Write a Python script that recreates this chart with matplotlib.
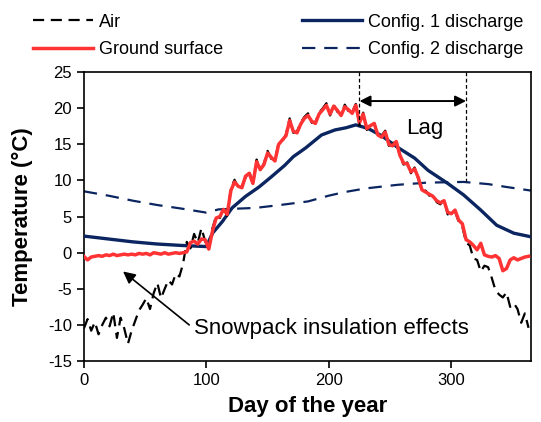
import matplotlib
matplotlib.use("Agg")
import matplotlib.pyplot as plt
import numpy as np

plt.rcParams['font.family'] = ['Liberation Sans', 'DejaVu Sans']
plt.rcParams['axes.unicode_minus'] = False

# daily series sampled every 3 days
days = np.arange(0, 366, 3)

air = [-10.5, -9.2, -10.8, -9.6, -11.3, -10.0, -9.0, -10.2, -8.3, -11.8,
       -9.0, -10.5, -12.6, -10.8, -9.4, -8.0, -7.2, -6.3, -7.8, -5.6,
       -4.2, -6.3, -5.0, -3.8, -4.4, -2.9, -3.3, -1.5, 1.5,
       0.6, 2.6, 1.4, 3.4, 1.6, 0.6, 3.4, 5.1, 4.8, 6.2,
       5.1, 8.9, 10.1, 9.0, 9.2, 10.4, 11.3, 9.4, 12.9, 11.3,
       12.4, 14.1, 13.0, 12.9, 15.2, 15.4, 16.4, 18.6, 16.6, 16.8,
       18.0, 18.8, 19.3, 18.0, 18.1, 19.4, 20.0, 20.7, 19.0, 20.5,
       19.5, 19.2, 20.5, 19.6, 19.5, 20.6, 17.6, 19.4, 17.0, 17.8,
       18.1, 16.1, 16.2, 16.9, 14.8, 15.0, 15.6, 13.3, 12.2, 12.5,
       11.0, 11.8, 10.2, 8.5, 8.6, 7.9, 8.0, 7.0, 6.7, 7.4,
       5.3, 5.6, 5.7,
       4.3, 3.6, 1.4, 1.0, -0.8, -1.0, -2.6, -1.8, -2.0, -3.5,
       -5.2, -5.8, -6.2, -5.5, -7.5, -7.0, -7.8, -9.7, -8.4, -10.4]

ground = [-0.5, -1.0, -0.6, -0.5, -0.4, -0.5, -0.3, -0.4, -0.2, -0.4,
          -0.3, -0.2, -0.3, -0.2, -0.3, -0.1, -0.2, -0.1, -0.3, 0.0,
          -0.1, -0.2, 0.0, -0.2, -0.1, 0.0, -0.1, 0.0, 0.1,
          1.4, 1.6, 1.2, 1.9, 1.8, 0.5, 3.0, 4.8, 5.0, 6.0,
          5.3, 8.6, 9.8, 9.2, 9.0, 10.6, 11.0, 9.6, 12.6, 11.5,
          12.2, 13.8, 13.2, 12.7, 15.0, 15.6, 16.2, 18.3, 16.8, 16.6,
          17.8, 18.6, 19.0, 18.2, 17.9, 19.2, 19.8, 20.4, 19.2, 20.3,
          19.7, 19.0, 20.2, 19.8, 19.3, 20.4, 18.0, 19.2, 17.2, 17.6,
          17.9, 16.3, 16.0, 16.7, 15.0, 14.8, 15.4, 13.5, 12.4, 12.3,
          11.2, 11.6, 10.4, 8.7, 8.4, 8.1, 7.8, 7.2, 6.9, 7.2,
          5.6, 5.4, 5.9,
          4.5, 4.0, 1.8, 1.5, 1.0, 0.4, 1.3, -0.3, -0.5, -0.6,
          -0.4, -0.8, -2.5, -2.2, -1.0, -0.7, -1.0, -0.8, -0.6, -0.5]

cfg1_days = [0, 20, 40, 60, 80, 100, 105, 113, 121, 132, 143, 153, 164, 171, 181,
             194, 205, 214, 222, 232, 243, 256, 270, 281, 297, 310, 324, 337, 351, 365]
cfg1 = [2.3, 1.9, 1.5, 1.2, 1.0, 0.85, 2.7, 4.3, 6.2, 7.8, 9.1, 10.5, 12.1, 13.3, 14.5,
        16.3, 17.0, 17.3, 17.7, 17.2, 16.2, 14.6, 13.1, 11.4, 9.6, 8.0, 5.9, 3.8, 2.7, 2.2]

cfg2_days = [0, 20, 40, 60, 80, 100, 110, 140, 160, 183, 200, 213, 230, 256,
             280, 310, 330, 345, 365]
cfg2 = [8.5, 7.9, 7.2, 6.6, 6.1, 5.55, 6.0, 6.2, 6.6, 7.1, 7.9, 8.4, 8.9, 9.4,
        9.7, 9.8, 9.5, 9.1, 8.6]

navy = '#0B2560'
red = '#FF3333'

fig = plt.figure(figsize=(5.41, 4.22), dpi=100)
ax = fig.add_axes([0.155, 0.1445, 0.8265, 0.6845])

l2, = ax.plot(cfg2_days, cfg2, color=navy, lw=1.6, dashes=(6, 4), zorder=2,
              label='Config. 2 discharge')
l1, = ax.plot(cfg1_days, cfg1, color=navy, lw=2.4, zorder=3, label='Config. 1 discharge')
la, = ax.plot(days, air, color='black', lw=1.6, dashes=(5, 3), zorder=4, label='Air')
lg, = ax.plot(days, ground, color=red, lw=2.5, zorder=5, label='Ground surface')

ax.set_xlim(0, 365)
ax.set_ylim(-15, 25)
ax.set_xticks([0, 100, 200, 300])
ax.set_yticks(np.arange(-15, 26, 5))
ax.tick_params(direction='out', length=5, width=1.2, labelsize=12)
for s in ax.spines.values():
    s.set_linewidth(1.2)

ax.set_xlabel('Day of the year', fontsize=16, fontweight='bold', labelpad=6)
ax.set_ylabel('Temperature (°C)', fontsize=16, fontweight='bold', labelpad=11)

# lag annotation
ax.plot([225, 225], [25, 17.7], color='black', lw=0.9, dashes=(3, 2), zorder=6)
ax.plot([312, 312], [25, 9.9], color='black', lw=0.9, dashes=(3, 2), zorder=6)
ax.annotate('', xy=(225, 21.0), xytext=(312, 21.0),
            arrowprops=dict(arrowstyle='<|-|>', color='black', lw=1.4,
                            mutation_scale=16, shrinkA=0, shrinkB=0), zorder=7)
ax.text(278, 17.2, 'Lag', fontsize=16, ha='center', va='center')

# snowpack annotation
ax.annotate('', xy=(32, -2.6), xytext=(86, -10.0),
            arrowprops=dict(arrowstyle='-|>', color='black', lw=1.2,
                            mutation_scale=18, shrinkA=0, shrinkB=0))
ax.text(90, -10.5, 'Snowpack insulation effects', fontsize=16, ha='left', va='center')

fig.legend([la, lg, l1, l2], ['Air', 'Ground surface', 'Config. 1 discharge',
                              'Config. 2 discharge'],
           loc='upper left', bbox_to_anchor=(0.061, 0.968), ncol=2, frameon=False,
           fontsize=13, handlelength=3.3, handletextpad=0.35, columnspacing=4.4,
           borderpad=0, borderaxespad=0, labelspacing=0.6)

fig.savefig('out.png', dpi=100)
